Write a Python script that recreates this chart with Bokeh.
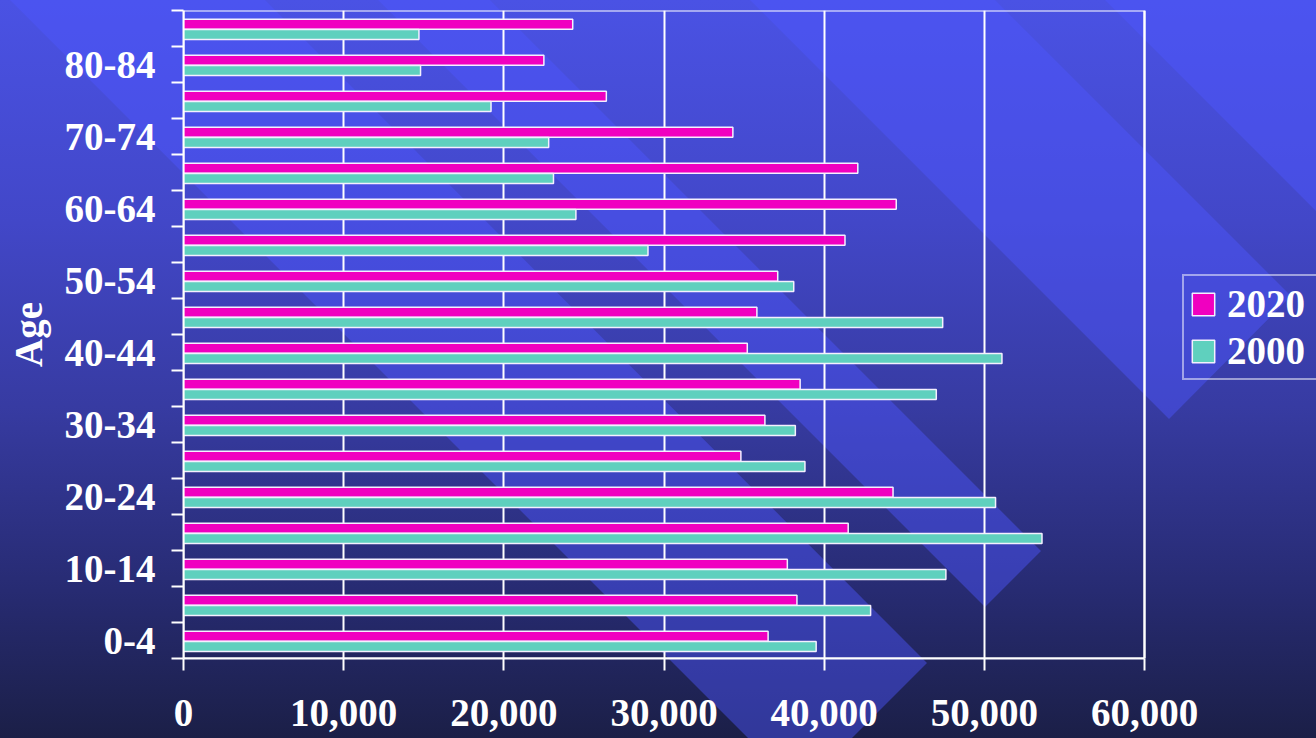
import numpy as np
from urllib.parse import quote
from bokeh.plotting import figure
from bokeh.models import (Range1d, FixedTicker, NumeralTickFormatter, Legend,
                          LegendItem, ColumnDataSource, BoxAnnotation)
from bokeh.transform import dodge
from bokeh.embed import file_html
from bokeh.resources import INLINE

# ---------------- data ----------------
ages = ["0-4", "5-9", "10-14", "15-19", "20-24", "25-29", "30-34", "35-39",
        "40-44", "45-49", "50-54", "55-59", "60-64", "65-69", "70-74",
        "75-79", "80-84", "85+"]
pop_2020 = [36500, 38300, 37700, 41500, 44300, 34800, 36300, 38500, 35200,
            35800, 37100, 41300, 44500, 42100, 34300, 26400, 22500, 24300]
pop_2000 = [39500, 42900, 47600, 53600, 50700, 38800, 38200, 47000, 51100,
            47400, 38100, 29000, 24500, 23100, 22800, 19200, 14800, 14700]
series_names = ["2020", "2000"]
x_ticks = [0, 10000, 20000, 30000, 40000, 50000, 60000]

# ---------------- style ----------------
FONT = "Liberation Serif"
FS = "39px"
MAGENTA = "#F000C0"
TEAL = "#5FD0BE"
WHITE = "#FFFFFF"
W, H = 1316, 738
FRAME_L, FRAME_R_AXIS = 183, 1144   # pixel where x = 0 and x = 60000

x_max = x_ticks[-1]
# frame runs to the right edge of the canvas so the legend sits inside it
x_end = x_max * (W - FRAME_L) / (FRAME_R_AXIS - FRAME_L)

src = ColumnDataSource(dict(y=list(range(len(ages))), p2020=pop_2020, p2000=pop_2000))

p = figure(width=W, height=H, x_range=Range1d(0, x_end),
           y_range=Range1d(-0.5, len(ages) - 0.5),
           output_backend="svg", toolbar_location=None,
           min_border_left=FRAME_L, min_border_right=0, min_border_top=10,
           min_border_bottom=80)

p.border_fill_color = None
p.background_fill_color = None
p.outline_line_color = None

# plot-area border (0..60000 x full category range)
p.add_layout(BoxAnnotation(left=0, right=x_max, bottom=-0.5, top=len(ages) - 0.5,
                           fill_alpha=0, line_color=WHITE, line_alpha=1.0,
                           line_width=2, level="underlay"))

r1 = p.hbar(y=dodge("y", 0.12), right="p2020", left=0, height=0.28, source=src,
            fill_color=MAGENTA, line_color="#F4F0FF", line_width=1.5)
r2 = p.hbar(y=dodge("y", -0.165), right="p2000", left=0, height=0.28, source=src,
            fill_color=TEAL, line_color="#F4F0FF", line_width=1.5)

# x axis
xt = FixedTicker(ticks=x_ticks)
xa = p.xaxis[0]
xa.ticker = xt
xa.bounds = (0, x_max)
xa.formatter = NumeralTickFormatter(format="0,0")
xa.axis_line_color = WHITE
xa.axis_line_width = 2
xa.major_tick_line_color = WHITE
xa.major_tick_line_width = 2
xa.major_tick_out = 12
xa.major_tick_in = 0
xa.minor_tick_line_color = None
xa.major_label_standoff = 29
xa.major_label_text_font = FONT
xa.major_label_text_font_style = "bold"
xa.major_label_text_font_size = FS
xa.major_label_text_color = WHITE

# y axis
ya = p.yaxis[0]
label_idx = list(range(0, len(ages), 2))
ya.ticker = FixedTicker(ticks=label_idx,
                        minor_ticks=[i - 0.5 for i in range(len(ages) + 1)])
ya.major_label_overrides = {i: ages[i] for i in label_idx}
ya.axis_line_color = WHITE
ya.axis_line_width = 2
ya.major_tick_line_color = None
ya.major_tick_out = 0
ya.major_tick_in = 0
ya.minor_tick_line_color = WHITE
ya.minor_tick_line_width = 2
ya.minor_tick_out = 12
ya.minor_tick_in = 0
ya.major_label_standoff = 16
ya.major_label_text_font = FONT
ya.major_label_text_font_style = "bold"
ya.major_label_text_font_size = FS
ya.major_label_text_color = WHITE
ya.axis_label = "Age"
ya.axis_label_text_font = FONT
ya.axis_label_text_font_style = "bold"
ya.axis_label_text_font_size = FS
ya.axis_label_text_color = WHITE
ya.axis_label_standoff = 12

# grid
p.xgrid.ticker = xt
p.xgrid.grid_line_color = WHITE
p.xgrid.grid_line_width = 2
p.ygrid.visible = False

# legend
legend = Legend(items=[LegendItem(label=series_names[0], renderers=[r1]),
                       LegendItem(label=series_names[1], renderers=[r2])],
                location=(1182 - FRAME_L, 658 - 380))
legend.border_line_color = WHITE
legend.border_line_width = 2
legend.background_fill_alpha = 0
legend.label_text_font = FONT
legend.label_text_font_style = "bold"
legend.label_text_font_size = FS
legend.label_text_color = WHITE
legend.glyph_width = 28
legend.glyph_height = 28
legend.label_standoff = 10
legend.label_width = 84
legend.padding = 5
legend.spacing = 2
legend.margin = 0
p.add_layout(legend)

# background: blue gradient with diagonal lighter bands
bands = [
    "10,0 265,0 927,663 852,738 748,738",
    "378,0 490,0 1041,551 985,607",
    "750,0 995,0 1291,296 1169,419",
    "1105,0 1316,0 1316,211",
]
polys = "".join(f'<polygon points="{b}" fill="#4D57FF" fill-opacity="0.45"/>' for b in bands)
svg = (f'<svg xmlns="http://www.w3.org/2000/svg" width="{W}" height="{H}" viewBox="0 0 {W} {H}">'
       '<defs><linearGradient id="g" x1="0" y1="0" x2="0" y2="1">'
       '<stop offset="0" stop-color="#4A52E4"/>'
       '<stop offset="0.3" stop-color="#4247C8"/>'
       '<stop offset="0.55" stop-color="#373BA2"/>'
       '<stop offset="0.8" stop-color="#272B72"/>'
       '<stop offset="1" stop-color="#1B1F47"/>'
       '</linearGradient></defs>'
       f'<rect x="0" y="0" width="{W}" height="{H}" fill="url(#g)"/>'
       + polys + '</svg>')
p.styles = {"background-image": f'url("data:image/svg+xml,{quote(svg)}")',
            "background-size": f"{W}px {H}px",
            "background-repeat": "no-repeat"}

open("out.html", "w").write(file_html(p, INLINE))
